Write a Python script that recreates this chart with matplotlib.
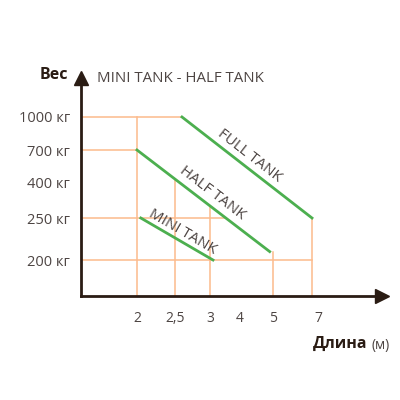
import numpy as np
import matplotlib
matplotlib.use("Agg")
from matplotlib import pyplot as plt
from matplotlib.transforms import ScaledTranslation

plt.rcParams["font.family"] = ["Open Sans", "DejaVu Sans"]

# axis values (schematic chart, uneven spacing)
lengths = [2, 2.5, 3, 4, 5, 7]
length_labels = ["2", "2,5", "3", "4", "5", "7"]
weights = [200, 250, 400, 700, 1000]
weight_labels = ["200 кг", "250 кг", "400 кг", "700 кг", "1000 кг"]

# tank lines (length, weight)
full_x = [2.6, 7]
full_y = [1000, 250]
half_x = [2, 4.9]
half_y = [700, 210]
mini_x = [2.05, 3.1]
mini_y = [250, 200]

# guide lines: vertical at length up to weight, horizontal at weight up to length
vguide_x = [2, 2.5, 3, 5, 7]
vguide_top = [1000, 428, 300, 210, 250]
hguide_y = [1000, 700, 250, 200]
hguide_right = [2.6, 2, 3.53, 7]

# schematic scale anchors (value -> pixel distance from origin)
x_vals = [0, 2, 2.5, 3, 4, 5, 7, 9]
x_pix = [0, 56, 94, 129, 159, 192, 231, 301]
y_vals = [0, 200, 250, 400, 700, 1000, 1300]
y_pix = [0, 36, 78, 114, 146, 179, 218]

def fwd(a, v, p):
    return np.interp(a, v, p)

fig = plt.figure(figsize=(4, 4), dpi=100)
ax = fig.add_axes([81 / 400, 104 / 400, 301 / 400, 218 / 400])
ax.set_xscale("function", functions=(lambda a: fwd(a, x_vals, x_pix), lambda a: fwd(a, x_pix, x_vals)))
ax.set_yscale("function", functions=(lambda a: fwd(a, y_vals, y_pix), lambda a: fwd(a, y_pix, y_vals)))
ax.set_xlim(0, 9)
ax.set_ylim(0, 1300)

guide = "#fcbb8c"
green = "#4caf4f"
dark = "#2a1c14"
gray = "#4d4543"

for x, top in zip(vguide_x, vguide_top):
    ax.plot([x, x], [0, top], color=guide, lw=1.1, zorder=1)
for y, right in zip(hguide_y, hguide_right):
    ax.plot([0, right], [y, y], color=guide, lw=1.1, zorder=1)

ax.plot(full_x, full_y, color=green, lw=2, zorder=2)
ax.plot(half_x, half_y, color=green, lw=2, zorder=2)
ax.plot(mini_x, mini_y, color=green, lw=2, zorder=2)

def line_label(xs, ys, text, frac, dx, dy):
    p1 = ax.transData.transform((xs[0], ys[0]))
    p2 = ax.transData.transform((xs[1], ys[1]))
    ang = np.degrees(np.arctan2(p2[1] - p1[1], p2[0] - p1[0]))
    xm = p1 + (p2 - p1) * frac
    xd, yd = ax.transData.inverted().transform(xm)
    ax.annotate(text, (xd, yd), xytext=(dx, dy), textcoords="offset pixels",
                rotation=ang, rotation_mode="anchor", ha="center", va="center",
                fontsize=10.8, color=gray)

line_label(full_x, full_y, "FULL TANK", 0.5, 2, 12)
line_label(half_x, half_y, "HALF TANK", 0.5, 9, 8)
line_label(mini_x, mini_y, "MINI TANK", 0.5, 6, 7)

for side in ["top", "right"]:
    ax.spines[side].set_visible(False)
for side in ["left", "bottom"]:
    ax.spines[side].set_color(dark)
    ax.spines[side].set_linewidth(2)
ax.plot([0], [1300], marker="^", markersize=10, color=dark, clip_on=False, zorder=5)
ax.plot([9], [0], marker=">", markersize=10, color=dark, clip_on=False, zorder=5)

ax.set_xticks(lengths)
ax.set_xticklabels(length_labels)
ax.set_yticks(weights)
ax.set_yticklabels(weight_labels)
ax.tick_params(axis="x", length=0, pad=11, labelsize=10, labelcolor=gray)
ax.tick_params(axis="y", length=0, pad=8, labelsize=10.5, labelcolor=gray)
lab7 = ax.get_xticklabels()[-1]
lab7.set_transform(lab7.get_transform() + ScaledTranslation(6 / 100, 0, fig.dpi_scale_trans))

fig.text(68 / 400, 1 - 75 / 400, "Вес", ha="right", va="center", fontsize=11.5,
         fontweight="bold", color=dark)
fig.text(97 / 400, 1 - 78 / 400, "MINI TANK - HALF TANK", ha="left", va="center",
         fontsize=10.8, color=gray)
fig.text(367 / 400, 1 - 344 / 400, "Длина", ha="right", va="center", fontsize=11.5,
         fontweight="bold", color=dark)
fig.text(371 / 400, 1 - 345 / 400, "(м)", ha="left", va="center", fontsize=10,
         color=gray)

fig.savefig("out.png", dpi=100)
